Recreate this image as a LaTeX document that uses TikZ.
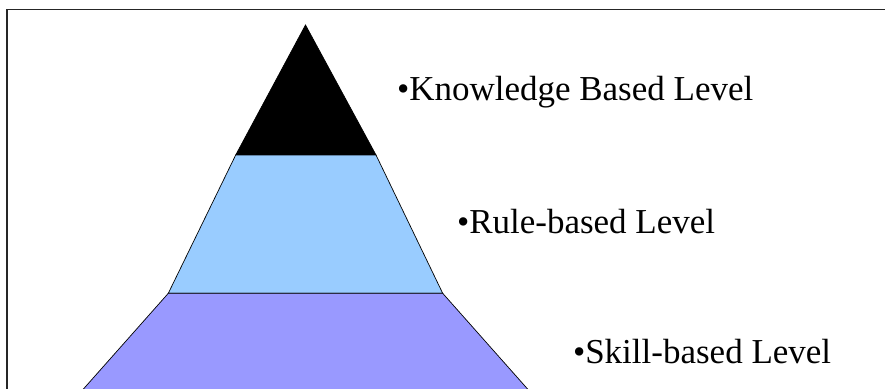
\documentclass[tikz,border=0pt]{standalone}
\usepackage{fontspec}
\setmainfont{Liberation Serif}
\usepackage{tikz}
\definecolor{rulelevel}{HTML}{99CCFF}
\definecolor{skilllevel}{HTML}{9999FF}
\newcommand{\levelfontsize}{35}
\tikzstyle{layer}=[draw, line width=0.7pt, line join=miter]
\tikzstyle{levellabel}=[anchor=base west, inner sep=0, outer sep=0,
                        font=\fontsize{\levelfontsize}{42}\selectfont]
\tikzstyle{pyramid}=[x=1pt, y=-1pt,
                     % Frame round the picture, cut off at the right and bottom.
                     execute at begin picture={\useasboundingbox (0,0) rectangle (885,388);
                                               \clip (0,0) rectangle (885,388);}]

\begin{document}
\begin{tikzpicture}[pyramid]
        \draw[line width=1.6pt, black!85] (7,9.5) rectangle (900,400);
        \coordinate (apex) at (305.5,25);
        \coordinate (K-l) at (235.7,155);
        \coordinate (K-r) at (376,155);
        \coordinate (R-l) at (168.3,293.3);
        \coordinate (R-r) at (442.7,293.3);
        \coordinate (S-l) at (79,394);
        \coordinate (S-r) at (532,394);
        \filldraw[layer, fill=black] (apex) -- (K-r) -- (K-l) -- cycle;
        \filldraw[layer, fill=rulelevel] (K-l) -- (K-r) -- (R-r) -- (R-l) -- cycle;
        \filldraw[layer, fill=skilllevel] (R-l) -- (R-r) -- (S-r) -- (S-l) -- cycle;
        \node[levellabel] (knowledge) at (397,100) {\textbullet Knowledge Based Level};
        \node[levellabel] (rule) at (457,233) {\textbullet Rule-based Level};
        \node[levellabel] (skill) at (573,363) {\textbullet Skill-based Level};
    \end{tikzpicture}
\end{document}
